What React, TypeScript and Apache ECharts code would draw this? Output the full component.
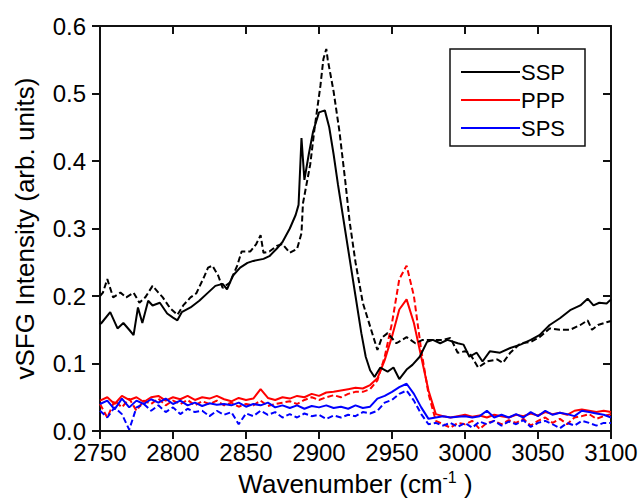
import React, { useEffect, useRef } from "react";
import * as echarts from "echarts";

// Shared wavenumber grid for PPP / SPS traces
const gridX = [
  2750, 2755, 2760, 2765, 2770, 2775, 2780, 2785, 2790, 2795, 2800, 2805, 2810, 2815, 2820,
  2825, 2830, 2835, 2840, 2845, 2850, 2855, 2860, 2865, 2870, 2875, 2880, 2885, 2890, 2895,
  2900, 2905, 2910, 2915, 2920, 2925, 2930, 2935, 2940, 2945, 2950, 2955, 2960, 2965, 2970,
  2975, 2980, 2985, 2990, 2995, 3000, 3005, 3010, 3015, 3020, 3025, 3030, 3035, 3040, 3045,
  3050, 3055, 3060, 3065, 3070, 3075, 3080, 3085, 3090, 3095, 3100,
];

const pppSolid = [
  0.045, 0.05, 0.04, 0.052, 0.046, 0.05, 0.043, 0.05, 0.052, 0.045, 0.05, 0.047, 0.052, 0.046, 0.05,
  0.048, 0.052, 0.047, 0.044, 0.049, 0.046, 0.048, 0.062, 0.049, 0.046, 0.05, 0.048, 0.052, 0.05, 0.055,
  0.052, 0.057, 0.058, 0.06, 0.062, 0.064, 0.063, 0.068, 0.078, 0.105, 0.14, 0.18, 0.195, 0.16, 0.11,
  0.06, 0.025, 0.022, 0.02, 0.022, 0.024, 0.021, 0.023, 0.02, 0.024, 0.022, 0.02, 0.024, 0.022, 0.026,
  0.023, 0.028, 0.025, 0.027, 0.024, 0.03, 0.032, 0.03, 0.028, 0.03, 0.028,
];

const pppDashed = [
  0.04, 0.02, 0.045, 0.035, 0.048, 0.03, 0.045, 0.04, 0.048, 0.038, 0.045, 0.04, 0.046, 0.038, 0.044,
  0.04, 0.045, 0.038, 0.042, 0.036, 0.04, 0.038, 0.045, 0.037, 0.04, 0.042, 0.044, 0.04, 0.046, 0.05,
  0.046, 0.05, 0.053, 0.05, 0.055, 0.058, 0.058, 0.062, 0.075, 0.11, 0.16, 0.225, 0.245, 0.2, 0.12,
  0.055, 0.015, 0.01, 0.005, 0.012, 0.01, 0.015, 0.003, 0.012, 0.015, 0.01, 0.016, 0.012, 0.018, 0.008,
  0.015, 0.02, 0.012, 0.018, 0.01, 0.02, 0.022, 0.025, 0.018, 0.022, 0.025,
];

const spsSolid = [
  0.04, 0.045, 0.032, 0.048, 0.035, 0.045, 0.04, 0.047, 0.042, 0.048, 0.04, 0.045, 0.038, 0.042, 0.037,
  0.041, 0.039, 0.04, 0.038, 0.042, 0.036, 0.04, 0.038, 0.042, 0.035, 0.038, 0.034, 0.038, 0.033, 0.037,
  0.035, 0.038, 0.034, 0.036, 0.033, 0.038, 0.034, 0.036, 0.048, 0.052, 0.058, 0.065, 0.07, 0.055, 0.035,
  0.018, 0.02, 0.022, 0.02, 0.021, 0.022, 0.02, 0.022, 0.03, 0.02, 0.024, 0.02, 0.025, 0.02, 0.028,
  0.022, 0.03, 0.024, 0.027, 0.025, 0.022, 0.03, 0.028, 0.026, 0.024, 0.02,
];

const spsDashed = [
  0.03, 0.02, 0.035, 0.025, 0.002, 0.035, 0.04, 0.03, 0.038, 0.028, 0.035, 0.025, 0.033, 0.028, 0.03,
  0.022, 0.03, 0.024, 0.028, 0.01, 0.026, 0.022, 0.03, 0.024, 0.028, 0.02, 0.025, 0.02, 0.026, 0.022,
  0.024, 0.018, 0.023, 0.02, 0.024, 0.022, 0.028, 0.026, 0.03, 0.042, 0.046, 0.055, 0.06, 0.045, 0.025,
  0.01, 0.012, 0.008, 0.012, 0.006, 0.012, 0.005, 0.014, 0.01, 0.015, 0.008, 0.014, 0.01, 0.016, 0.006,
  0.012, 0.015, 0.01, 0.004, 0.012, 0.008, 0.015, 0.012, 0.008, 0.012, 0.012,
];

// SSP traces (own wavenumber samples, finer near the peak)
const sspSolidX = [
  2750, 2751, 2757, 2762, 2766, 2770, 2773, 2776, 2779, 2783, 2786, 2791, 2796, 2800, 2803, 2806,
  2812, 2818, 2824, 2829, 2834, 2837, 2841, 2846, 2851, 2855, 2862, 2866, 2871, 2875, 2880, 2884,
  2886, 2888, 2890, 2893, 2896, 2900, 2904, 2907, 2910, 2913, 2917, 2921, 2925, 2929, 2932, 2935,
  2938, 2942, 2947, 2951, 2955, 2960, 2964, 2969, 2974, 2978, 2983, 2988, 2995, 2999, 3003, 3008,
  3012, 3017, 3024, 3031, 3038, 3045, 3051, 3058, 3065, 3072, 3079, 3084, 3088, 3092, 3097, 3100,
];
const sspSolidY = [
  0.158, 0.16, 0.176, 0.152, 0.16, 0.15, 0.142, 0.183, 0.16, 0.193, 0.186, 0.19, 0.174, 0.168, 0.164, 0.176,
  0.183, 0.193, 0.205, 0.215, 0.218, 0.21, 0.23, 0.242, 0.249, 0.252, 0.255, 0.259, 0.27, 0.28, 0.3, 0.32,
  0.335, 0.434, 0.372, 0.41, 0.444, 0.472, 0.475, 0.45, 0.41, 0.365, 0.31, 0.255, 0.2, 0.145, 0.11, 0.09,
  0.08, 0.094, 0.088, 0.094, 0.077, 0.091, 0.098, 0.11, 0.132, 0.135, 0.13, 0.135, 0.13, 0.128, 0.11, 0.116,
  0.103, 0.118, 0.116, 0.123, 0.128, 0.135, 0.142, 0.157, 0.167, 0.179, 0.186, 0.196, 0.186, 0.19, 0.189, 0.195,
];

const sspDashedX = [
  2750, 2752, 2755, 2759, 2764, 2768, 2773, 2777, 2781, 2786, 2790, 2793, 2798, 2803, 2807, 2812,
  2816, 2821, 2824, 2827, 2831, 2834, 2839, 2844, 2847, 2853, 2857, 2860, 2862, 2866, 2871, 2875,
  2880, 2885, 2888, 2889, 2894, 2897, 2901, 2903, 2905, 2906, 2910, 2914, 2918, 2921, 2925, 2930,
  2935, 2940, 2943, 2947, 2953, 2960, 2966, 2971, 2978, 2985, 2990, 2995, 3000, 3003, 3009, 3015,
  3022, 3026, 3031, 3038, 3045, 3051, 3058, 3065, 3072, 3079, 3084, 3087, 3091, 3097, 3100,
];
const sspDashedY = [
  0.2, 0.205, 0.225, 0.198, 0.205, 0.198, 0.205, 0.19, 0.198, 0.215, 0.205, 0.198, 0.182, 0.172, 0.186, 0.198,
  0.204, 0.227, 0.242, 0.245, 0.23, 0.212, 0.22, 0.245, 0.266, 0.266, 0.277, 0.29, 0.264, 0.266, 0.274, 0.277,
  0.264, 0.27, 0.293, 0.337, 0.395, 0.449, 0.512, 0.551, 0.566, 0.55, 0.503, 0.444, 0.37, 0.31, 0.25, 0.19,
  0.155, 0.12, 0.138, 0.145, 0.13, 0.139, 0.13, 0.135, 0.135, 0.135, 0.138, 0.116, 0.118, 0.116, 0.094, 0.103,
  0.106, 0.101, 0.116, 0.13, 0.132, 0.139, 0.152, 0.15, 0.15, 0.157, 0.164, 0.15, 0.157, 0.161, 0.163,
];

const legendNames = ["SSP", "PPP", "SPS"];
const legendColors = ["#000000", "#ff0000", "#0000ff"];

const FONT = '"Liberation Sans", Arial, Helvetica, sans-serif';

function pairs(xs: number[], ys: number[]) {
  return xs.map((x, i) => [x, ys[i]]);
}

export default function App() {
  const ref = useRef<HTMLDivElement>(null);

  useEffect(() => {
    if (!ref.current) return;
    const chart = echarts.init(ref.current, null, { renderer: "svg" });

    const axisLine = { show: true, onZero: false, lineStyle: { color: "#111", width: 2 } };
    const tickStyle = { color: "#111", width: 2 };

    const mk = (name: string, data: number[][], color: string, dashed: boolean) => ({
      name,
      type: "line",
      data,
      showSymbol: false,
      symbol: "none",
      lineStyle: { color, width: 2, type: dashed ? [6, 3] : "solid" },
      itemStyle: { color },
      z: 3,
    });

    const legendGraphic: any[] = [
      {
        type: "rect",
        shape: { x: 450, y: 49, width: 135, height: 97 },
        style: { fill: "#fff", stroke: "#111", lineWidth: 1.5 },
        z: 100,
      },
    ];
    legendNames.forEach((n, i) => {
      const y = 72 + i * 28;
      legendGraphic.push({
        type: "line",
        shape: { x1: 461, y1: y, x2: 520, y2: y },
        style: { stroke: legendColors[i], lineWidth: 2 },
        z: 101,
      });
      legendGraphic.push({
        type: "text",
        x: 521,
        y,
        style: {
          text: n,
          fill: "#000",
          font: `22px ${FONT}`,
          textVerticalAlign: "middle",
          verticalAlign: "middle",
          textAlign: "left",
          align: "left",
        },
        z: 101,
      });
    });

    const option: any = {
      animation: false,
      grid: { left: 100, right: 32, top: 26, bottom: 64 },
      xAxis: [
        {
          type: "value",
          position: "bottom",
          min: 2750,
          max: 3100,
          interval: 50,
          axisLine,
          axisTick: { show: true, inside: false, length: 8, lineStyle: tickStyle },
          axisLabel: {
            fontSize: 24,
            color: "#000",
            margin: 9,
            fontFamily: FONT,
            formatter: (v: number) => String(v),
          },
          splitLine: { show: false },
          name: "{a|Wavenumber (cm}{s|-1}{a| )}",
          nameLocation: "middle",
          nameGap: 38,
          nameTextStyle: {
            rich: {
              a: { fontSize: 26, fontFamily: FONT, color: "#000", lineHeight: 30 },
              s: { fontSize: 16, fontFamily: FONT, color: "#000", lineHeight: 18, verticalAlign: "top" },
            },
          },
        },
        {
          type: "value",
          position: "top",
          min: 2750,
          max: 3100,
          interval: 50,
          axisLine,
          axisTick: { show: true, inside: true, length: 8, lineStyle: tickStyle },
          axisLabel: { show: false },
          splitLine: { show: false },
        },
      ],
      yAxis: [
        {
          type: "value",
          position: "left",
          min: 0,
          max: 0.6,
          interval: 0.1,
          axisLine,
          axisTick: { show: true, inside: false, length: 8, lineStyle: tickStyle },
          axisLabel: {
            fontSize: 24,
            color: "#000",
            margin: 14,
            fontFamily: FONT,
            formatter: (v: number) => v.toFixed(1),
          },
          splitLine: { show: false },
          name: "vSFG Intensity (arb. units)",
          nameLocation: "middle",
          nameGap: 62,
          nameTextStyle: { fontSize: 26, fontFamily: FONT, color: "#000" },
        },
        {
          type: "value",
          position: "right",
          min: 0,
          max: 0.6,
          interval: 0.1,
          axisLine,
          axisTick: { show: true, inside: true, length: 8, lineStyle: tickStyle },
          axisLabel: { show: false },
          splitLine: { show: false },
        },
      ],
      series: [
        mk("PPP dashed", pairs(gridX, pppDashed), "#ff0000", true),
        mk("PPP", pairs(gridX, pppSolid), "#ff0000", false),
        mk("SPS dashed", pairs(gridX, spsDashed), "#0000ff", true),
        mk("SPS", pairs(gridX, spsSolid), "#0000ff", false),
        mk("SSP dashed", pairs(sspDashedX, sspDashedY), "#000000", true),
        mk("SSP", pairs(sspSolidX, sspSolidY), "#000000", false),
      ],
      graphic: legendGraphic,
    };

    chart.setOption(option);
    return () => chart.dispose();
  }, []);

  return <div ref={ref} style={{ width: 643, height: 502, position: "absolute", left: 0, top: 0 }} />;
}
